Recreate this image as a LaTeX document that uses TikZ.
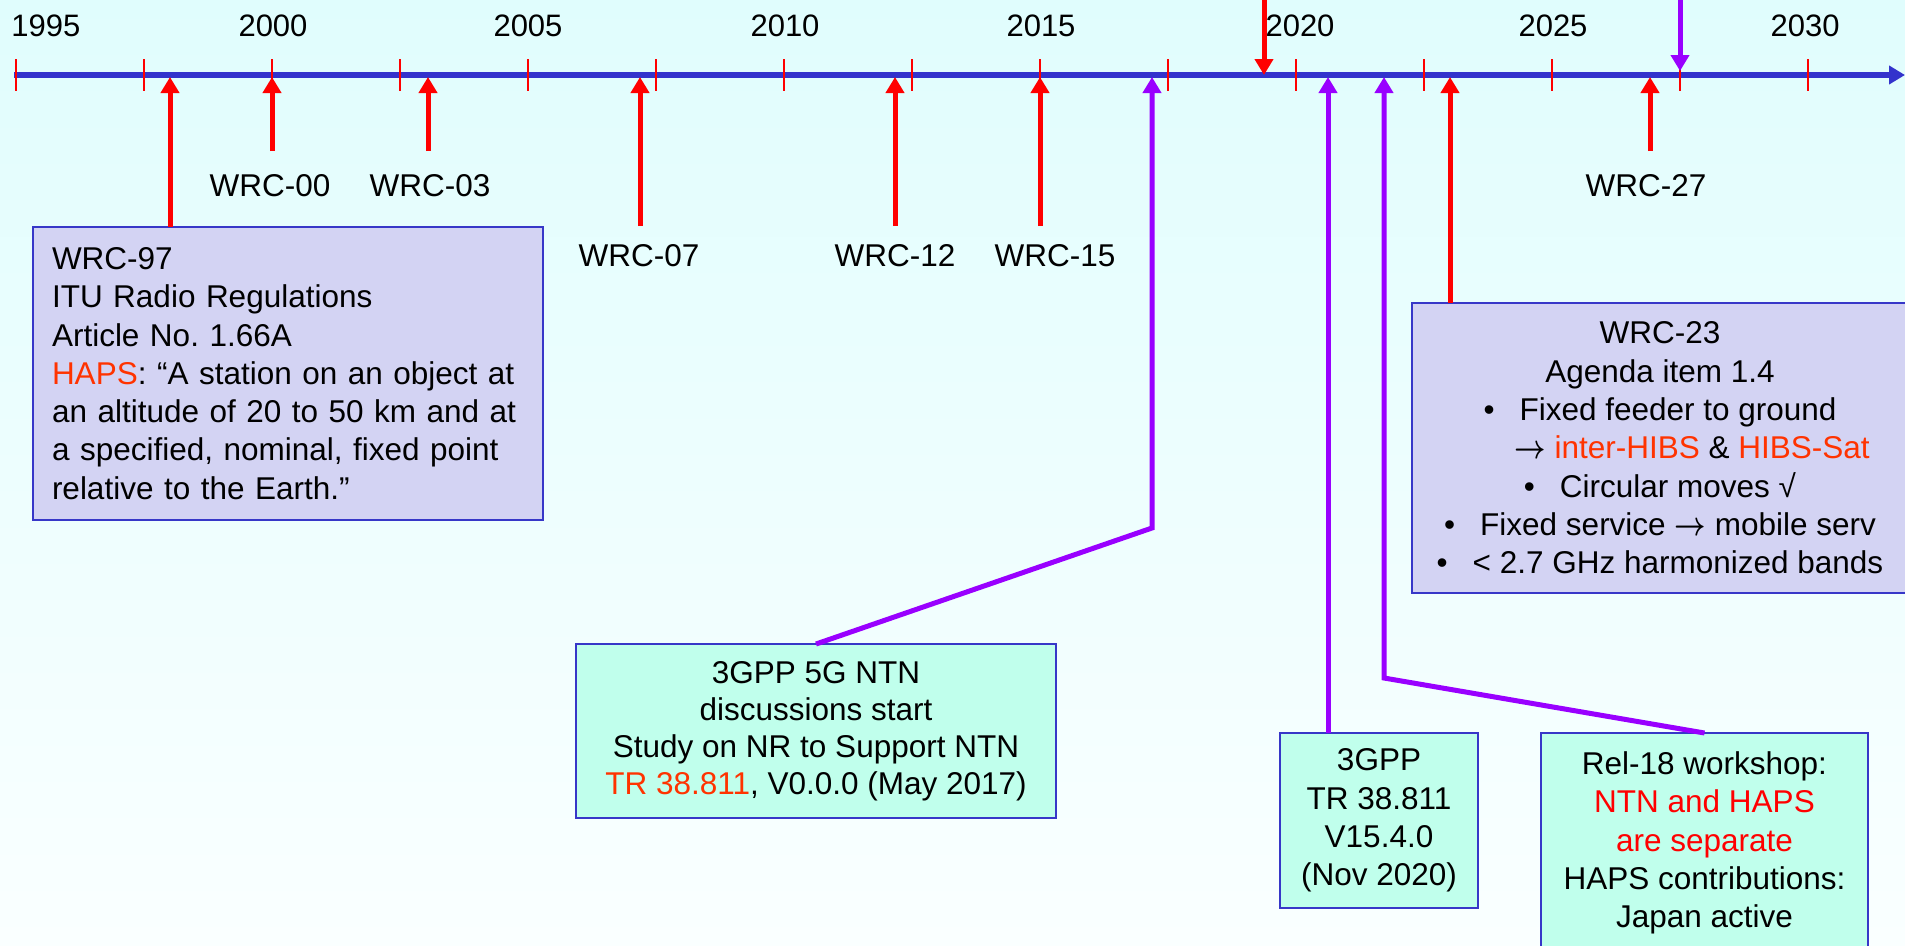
\documentclass[tikz,border=0pt]{standalone}
\usepackage{fontspec}
\usepackage{graphicx}
\usepackage{amsmath}
\setmainfont{Liberation Sans}
\usetikzlibrary{arrows.meta}
\definecolor{axisblue}{RGB}{51,51,204}
\definecolor{boxblue}{RGB}{55,55,200}
\definecolor{lavfill}{RGB}{211,211,243}
\definecolor{mintfill}{RGB}{192,255,236}
\definecolor{hapsred}{RGB}{255,51,0}
\definecolor{evpurple}{RGB}{153,0,255}
\definecolor{bgtop}{RGB}{224,253,253}
\definecolor{bgbot}{RGB}{250,255,255}
\newcommand{\rarr}{\scalebox{1.1}[1.35]{$\boldsymbol{\rightarrow}$}}
\begin{document}
\begin{tikzpicture}[x=1pt,y=-1pt,
  every node/.style={font=\fontsize{31.5}{38.3}\selectfont, outer sep=0pt},
  yearlbl/.style={font=\fontsize{31}{36}\selectfont, anchor=base},
  wrclbl/.style={anchor=base},
  axisline/.style={draw=axisblue, line width=6pt, -{Triangle[width=18pt,length=16pt]}},
  tickline/.style={draw=red, line width=2pt},
  redarrow/.style={draw=red, line width=5pt, -{Triangle[width=18pt,length=16pt]}},
  purparrow/.style={draw=evpurple, line width=5pt, -{Triangle[width=18pt,length=16pt]}, line join=miter},
  lavbox/.style={draw=boxblue, line width=2pt, fill=lavfill, anchor=north west},
  mintbox/.style={draw=boxblue, line width=2pt, fill=mintfill, anchor=north west, align=center},
]
\clip (0,0) rectangle (1905,945);
\shade[top color=bgtop, bottom color=bgbot] (0,0) rectangle (1905,945);

% axis
\coordinate (axs) at (14,75);
\coordinate (axe) at (1905,75);
\draw[axisline] (axs) -- (axe);

% ticks every 2.5 years: 1995 at x=16, 128 px per 2.5 years
\foreach \i in {0,...,14} {
  \coordinate (tk\i a) at ({16+128*\i},59);
  \coordinate (tk\i b) at ({16+128*\i},91);
  \draw[tickline] (tk\i a) -- (tk\i b);
}

% year labels
\node[yearlbl, anchor=base west] (y1995) at (8,36) {1995};
\node[yearlbl] (y2000) at (273,36) {2000};
\node[yearlbl] (y2005) at (528,36) {2005};
\node[yearlbl] (y2010) at (785,36) {2010};
\node[yearlbl] (y2015) at (1041,36) {2015};
\node[yearlbl] (y2020) at (1300,36) {2020};
\node[yearlbl] (y2025) at (1553,36) {2025};
\node[yearlbl] (y2030) at (1805,36) {2030};

% boxes
\node[lavbox, minimum width=510pt, minimum height=293pt, inner xsep=19pt,
      text width=472pt, align=left] (wrc97) at (33,227)
  {WRC-97\\ITU Radio Regulations\\Article No.\ 1.66A\\\textcolor{hapsred}{HAPS}: “A station on an object at\\an altitude of 20 to 50 km and at\\a specified, nominal, fixed point\\relative to the Earth.”};

\node[lavbox, minimum width=496pt, minimum height=290pt, align=center] (wrc23) at (1412,303)
  {WRC-23\\Agenda item 1.4\\
   •\hspace{25pt}Fixed feeder to ground\\
   \hspace*{64pt}\rarr\ \textcolor{hapsred}{inter-HIBS} \& \textcolor{hapsred}{HIBS-Sat}\\
   •\hspace{25pt}Circular moves √\\
   •\hspace{25pt}Fixed service \rarr\ mobile serv\\
   •\hspace{25pt}< 2.7 GHz harmonized bands};

\node[mintbox, minimum width=480pt, minimum height=174pt,
      font=\fontsize{31.5}{37}\selectfont] (ntn) at (576,644)
  {3GPP 5G NTN\\discussions start\\Study on NR to Support NTN\\\textcolor{hapsred}{TR 38.811}, V0.0.0 (May 2017)};

\node[mintbox, minimum width=198pt, minimum height=175pt] (g3) at (1280,733)
  {3GPP\\TR 38.811\\V15.4.0\\(Nov 2020)};

\node[mintbox, minimum width=327pt, minimum height=220pt] (rel18) at (1541,733)
  {Rel-18 workshop:\\\textcolor{red}{NTN and HAPS}\\\textcolor{red}{are separate}\\HAPS contributions:\\Japan active};

% WRC labels
\node[wrclbl] (l00) at (270,196) {WRC-00};
\node[wrclbl] (l03) at (430,196) {WRC-03};
\node[wrclbl] (l07) at (639,266) {WRC-07};
\node[wrclbl] (l12) at (895,266) {WRC-12};
\node[wrclbl] (l15) at (1055,266) {WRC-15};
\node[wrclbl] (l27) at (1646,196) {WRC-27};

% arrow coordinates on the axis
\coordinate (a97) at (170,77);
\coordinate (a00) at (272,77);
\coordinate (a03) at (428,77);
\coordinate (a07) at (640,77);
\coordinate (a12) at (895,77);
\coordinate (a15) at (1040,77);
\coordinate (a17) at (1152,77);
\coordinate (a20) at (1328,77);
\coordinate (a21) at (1384,77);
\coordinate (a23) at (1450,77);
\coordinate (a27) at (1650,77);
\coordinate (s00) at (272,151);
\coordinate (s03) at (428,151);
\coordinate (s07) at (640,226);
\coordinate (s12) at (895,226);
\coordinate (s15) at (1040,226);
\coordinate (s27) at (1650,151);
\coordinate (b17) at (1152,528);
\coordinate (b21) at (1384,678);
\coordinate (t19) at (1264,0);
\coordinate (d19) at (1264,75);
\coordinate (t27) at (1680,0);
\coordinate (d27) at (1680,71);

% red WRC arrows
\draw[redarrow] (wrc97.north -| a97) -- (a97);
\draw[redarrow] (s00) -- (a00);
\draw[redarrow] (s03) -- (a03);
\draw[redarrow] (s07) -- (a07);
\draw[redarrow] (s12) -- (a12);
\draw[redarrow] (s15) -- (a15);
\draw[redarrow] (wrc23.north -| a23) -- (a23);
\draw[redarrow] (s27) -- (a27);
\draw[redarrow] (t19) -- (d19);

% purple 3GPP arrows
\draw[purparrow] (ntn.north) -- (b17) -- (a17);
\draw[purparrow] (g3.north -| a20) -- (a20);
\draw[purparrow] (rel18.north) -- (b21) -- (a21);
\draw[purparrow] (t27) -- (d27);
\end{tikzpicture}
\end{document}
